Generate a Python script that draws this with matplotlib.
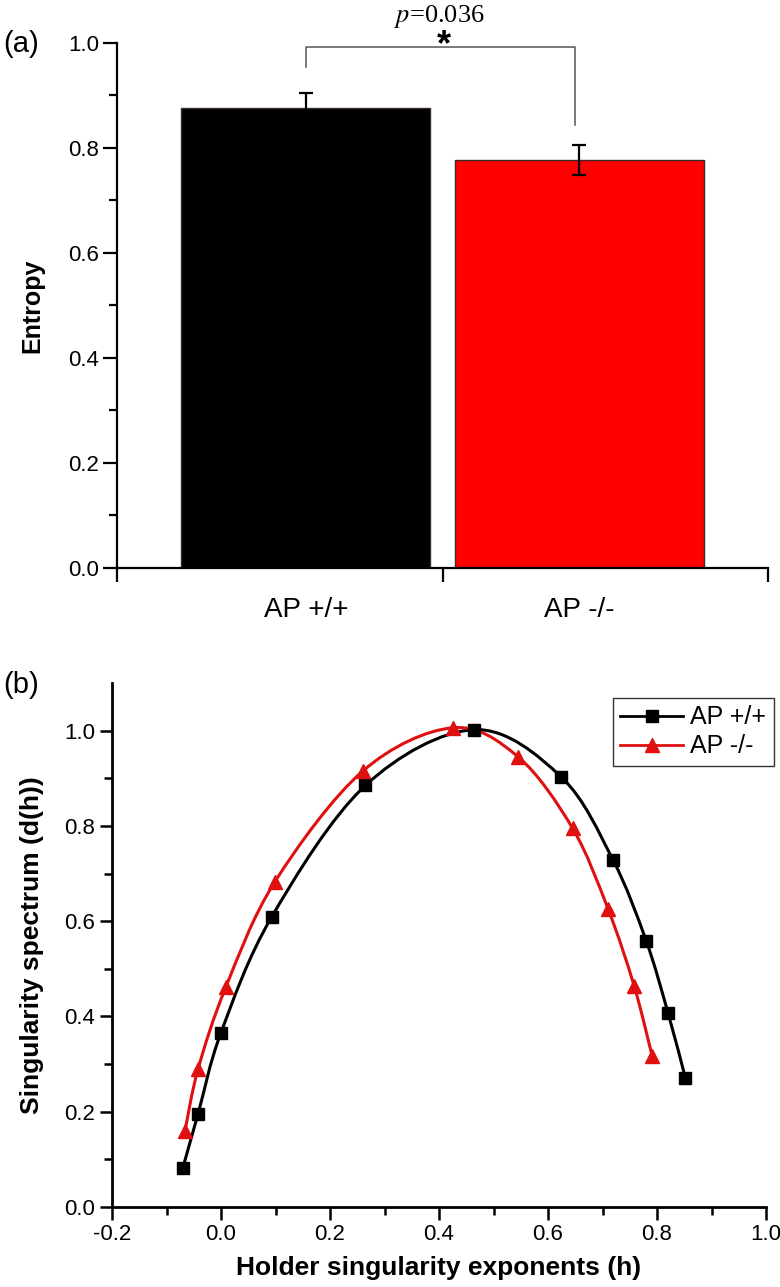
import numpy as np
import matplotlib
matplotlib.use("Agg")
import matplotlib.pyplot as plt
from matplotlib.path import Path
from matplotlib.patches import PathPatch
from matplotlib.lines import Line2D

plt.rcParams['font.family'] = ['Liberation Sans', 'DejaVu Sans']
plt.rcParams['mathtext.fontset'] = 'stix'

# panel (a): entropy per group
groups = ['AP +/+', 'AP -/-']
entropy = [0.876, 0.777]
entropy_err = [0.029, 0.029]
bar_colors = ['#000000', '#ff0000']
p_text = '0.036'

# panel (b): singularity spectrum
h_wt = [-0.070, -0.042, 0.0, 0.093, 0.265, 0.465, 0.624, 0.719, 0.780, 0.820, 0.852]
d_wt = [0.082, 0.196, 0.366, 0.609, 0.885, 1.002, 0.903, 0.729, 0.559, 0.408, 0.271]
h_ko = [-0.066, -0.042, 0.009, 0.099, 0.260, 0.425, 0.545, 0.645, 0.710, 0.758, 0.791]
d_ko = [0.160, 0.290, 0.462, 0.683, 0.915, 1.006, 0.945, 0.795, 0.626, 0.464, 0.317]


def smooth_path(x, y):
    # Catmull-Rom through the points, as bezier segments
    pts = np.column_stack([x, y])
    n = len(pts)
    verts = [pts[0]]
    codes = [Path.MOVETO]
    for i in range(n - 1):
        p0 = pts[max(i - 1, 0)]
        p1 = pts[i]
        p2 = pts[i + 1]
        p3 = pts[min(i + 2, n - 1)]
        verts += [p1 + (p2 - p0) / 6.0, p2 - (p3 - p1) / 6.0, p2]
        codes += [Path.CURVE4] * 3
    return Path(verts, codes)


fig = plt.figure(figsize=(7.8, 12.87), dpi=100)

# ---------------- (a) ----------------
ax1 = fig.add_axes([0.150, 0.5587, 0.835, 0.4079])
xpos = np.arange(len(groups))
ax1.bar(xpos, entropy, width=0.91, color=bar_colors, edgecolor='#3a2a2a', linewidth=1.0, zorder=2)
ax1.errorbar(xpos, entropy, yerr=entropy_err, fmt='none', ecolor='black',
             elinewidth=1.6, capsize=5, capthick=1.6, zorder=3)
ax1.set_xlim(-0.69, 1.69)
ax1.set_ylim(0, 1.0)
for s in ['top', 'right']:
    ax1.spines[s].set_visible(False)
for s in ['left', 'bottom']:
    ax1.spines[s].set_linewidth(1.6)
ax1.set_yticks(np.arange(0, 1.01, 0.2))
ax1.set_yticks(np.arange(0.1, 1.0, 0.2), minor=True)
ax1.set_yticklabels(['%.1f' % v for v in np.arange(0, 1.01, 0.2)])
ax1.tick_params(axis='y', which='major', direction='out', length=10, width=1.6, labelsize=16, pad=3)
ax1.tick_params(axis='y', which='minor', direction='out', length=6, width=1.6)
ax1.set_xticks(xpos)
ax1.set_xticklabels(groups)
ax1.set_xticks([-0.69, 0.5, 1.69], minor=True)
ax1.tick_params(axis='x', which='major', length=0, labelsize=20, pad=21)
ax1.tick_params(axis='x', which='minor', direction='out', length=10, width=1.6)
ax1.set_ylabel('Entropy', fontsize=18, fontweight='bold')
ax1.yaxis.set_label_coords(-0.112, 0.5)

# significance bracket
ax1.plot([0, 0, 0.985, 0.985], [0.954, 0.992, 0.992, 0.844], color='#555555', lw=1.1, clip_on=False, zorder=4)
ax1.text(0.505, 0.995, '*', ha='center', va='center', fontsize=26, fontweight='bold', clip_on=False)
ax1.text(0.487, 1.051, '$p$=' + p_text, ha='center', va='center', fontsize=19,
         family=['Liberation Serif', 'DejaVu Serif'], clip_on=False)
fig.text(0.004, 0.966, '(a)', fontsize=21, va='center', ha='left')

# ---------------- (b) ----------------
ax2 = fig.add_axes([0.1436, 0.0622, 0.8385, 0.4071])
ax2.add_patch(PathPatch(smooth_path(h_wt, d_wt), fill=False, edgecolor='black', lw=2.2, zorder=2))
ax2.add_patch(PathPatch(smooth_path(h_ko, d_ko), fill=False, edgecolor='#e01010', lw=2.2, zorder=2))
ax2.plot(h_wt, d_wt, ls='none', marker='s', ms=8.5, color='black', zorder=3)
ax2.plot(h_ko, d_ko, ls='none', marker='^', ms=10, color='#e01010', zorder=3)
ax2.set_xlim(-0.2, 1.0)
ax2.set_ylim(0, 1.1)
for s in ['top', 'right']:
    ax2.spines[s].set_visible(False)
for s in ['left', 'bottom']:
    ax2.spines[s].set_linewidth(2.0)
ax2.set_xticks(np.arange(-0.2, 1.01, 0.2))
ax2.set_xticklabels(['%.1f' % v for v in np.arange(-0.2, 1.01, 0.2)])
ax2.set_xticks(np.arange(-0.1, 1.0, 0.2), minor=True)
ax2.set_yticks(np.arange(0, 1.01, 0.2))
ax2.set_yticklabels(['%.1f' % v for v in np.arange(0, 1.01, 0.2)])
ax2.set_yticks(np.arange(0.1, 1.1, 0.2), minor=True)
ax2.tick_params(which='major', direction='out', length=9, width=1.8, labelsize=16, pad=3)
ax2.tick_params(which='minor', direction='out', length=6, width=1.8)
ax2.set_xlabel('Holder singularity exponents (h)', fontsize=19, fontweight='bold')
ax2.xaxis.set_label_coords(0.5, -0.094)
ax2.set_ylabel('Singularity spectrum (d(h))', fontsize=19, fontweight='bold')
ax2.yaxis.set_label_coords(-0.104, 0.5)

handles = [Line2D([], [], color='black', lw=2, marker='s', ms=8),
           Line2D([], [], color='#e01010', lw=2, marker='^', ms=10)]
leg = ax2.legend(handles, groups, loc='upper right', bbox_to_anchor=(0.992, 0.4577),
                 bbox_transform=fig.transFigure, fontsize=18, frameon=True, fancybox=False,
                 edgecolor='black', handlelength=2.5, handletextpad=0.3, borderpad=0.3,
                 labelspacing=0.2, borderaxespad=0)
leg.get_frame().set_linewidth(1.0)
fig.text(0.004, 0.468, '(b)', fontsize=21, va='center', ha='left')

fig.savefig('out.png', dpi=100)
